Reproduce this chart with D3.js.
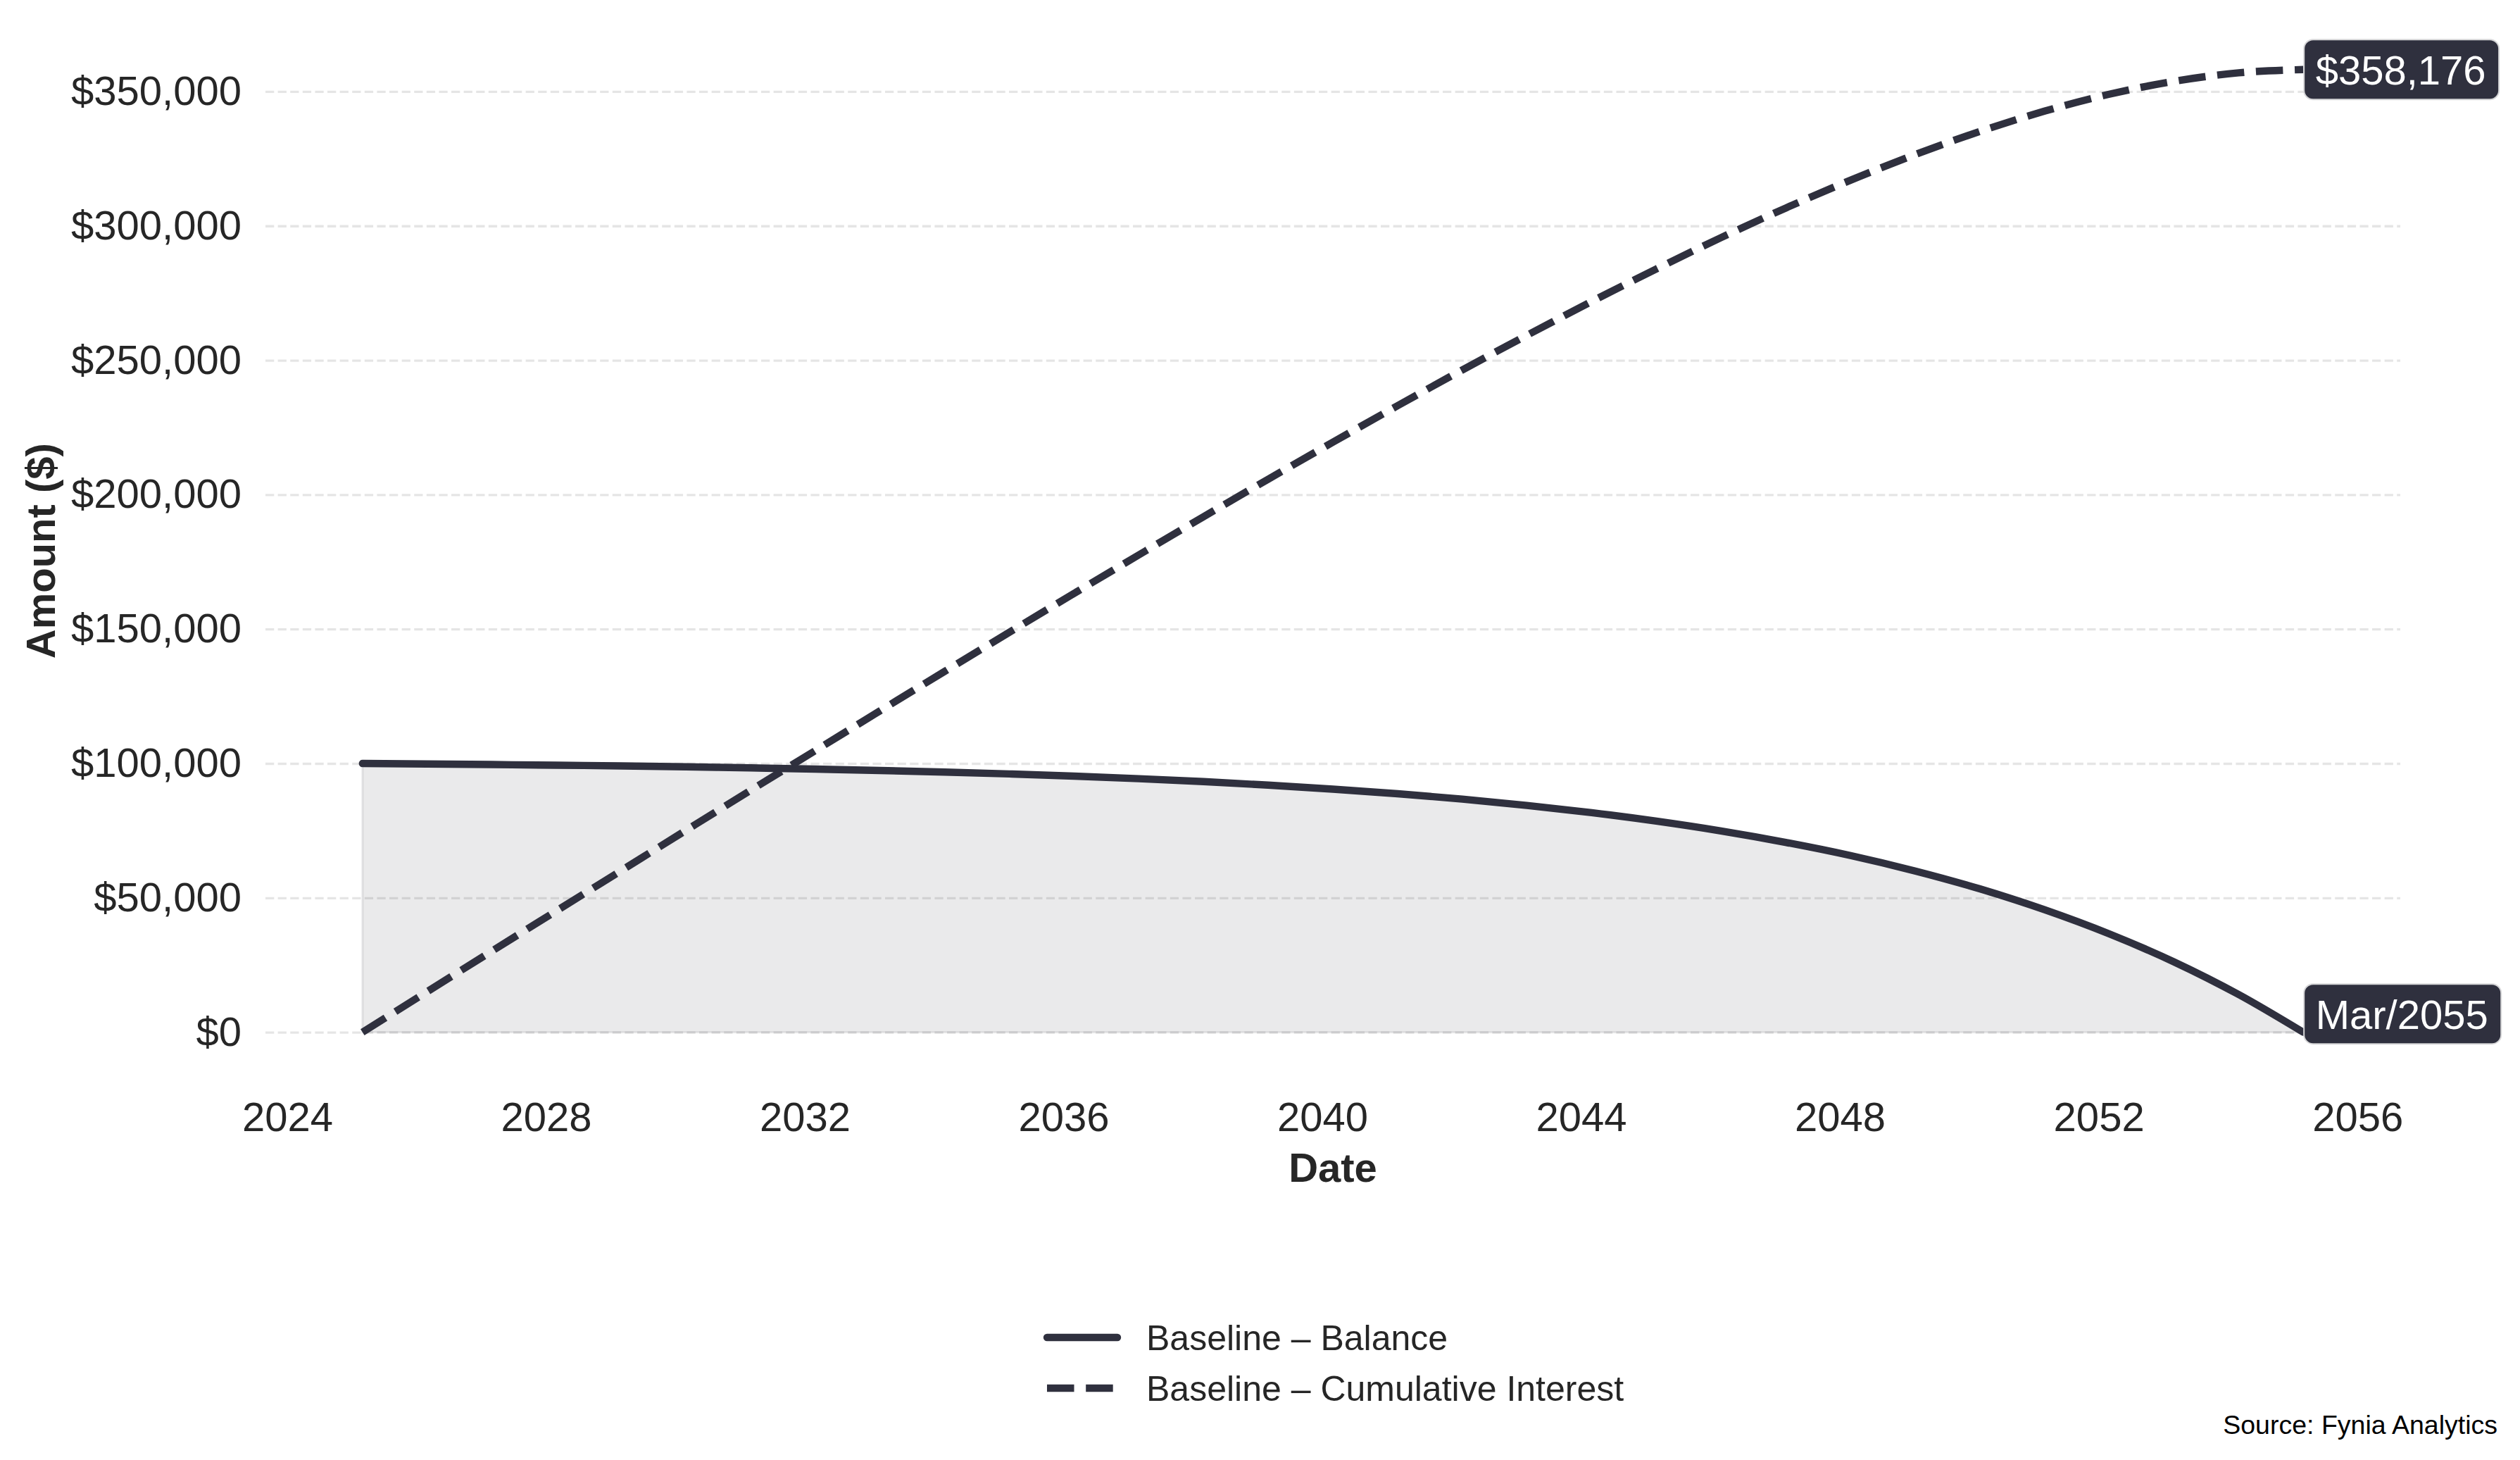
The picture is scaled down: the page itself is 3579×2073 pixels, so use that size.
<!DOCTYPE html>
<html>
<head>
<meta charset="utf-8">
<script src="https://cdn.jsdelivr.net/npm/d3@7"></script>
<style>
  body { margin: 0; background: #fff; }
  svg { display: block; font-family: "Liberation Sans", Arial, sans-serif; }
</style>
</head>
<body>
<svg id="chart" width="3579" height="2073"></svg>
<script>
// values, one point per year (March)
var years = [2025, 2026, 2027, 2028, 2029, 2030, 2031, 2032, 2033, 2034, 2035,
             2036, 2037, 2038, 2039, 2040, 2041, 2042, 2043, 2044, 2045,
             2046, 2047, 2048, 2049, 2050, 2051, 2052, 2053, 2054, 2055];
var balance = [100000, 99800, 99600, 99350, 99100, 98750, 98350, 97900, 97400, 96800, 96100,
               95300, 94350, 93250, 91950, 90450, 88750, 86750, 84400, 81700, 78550,
               74900, 70650, 65750, 60000, 53350, 45600, 36600, 26200, 14050, 0];
var interest = [0, 15100, 30150, 45200, 60150, 75100, 90000, 104800, 119600, 134250, 148800,
                163300, 177600, 191800, 205750, 219550, 233100, 246400, 259300, 271900, 284000,
                295650, 306650, 317000, 326550, 335150, 342700, 349000, 353800, 356950, 358176];
var yTicks = [0, 50000, 100000, 150000, 200000, 250000, 300000, 350000];
var seriesNames = ['Baseline \u2013 Balance', 'Baseline \u2013 Cumulative Interest'];
var endLabels = ['$358,176', 'Mar/2055'];
var sourceText = 'Source: Fynia Analytics';

var ink = '#2f303e';
var textColor = '#262626';

var svg = d3.select('#chart');
var margin = {l: 377, r: 3409, t: 30.4, b: 1534};
var plotW = margin.r - margin.l;

var rows = years.map(function(y, i) {
    return {date: new Date(y, 2, 1), balance: balance[i], interest: interest[i]};
});

// 5% padding round the data, like the original
var t0 = rows[0].date, t1 = rows[rows.length - 1].date;
var padT = (t1 - t0) * 0.05;
var x = d3.scaleTime()
    .domain([new Date(+t0 - padT), new Date(+t1 + padT)])
    .range([margin.l, margin.r]);

var yMax = d3.max(interest), padY = yMax * 0.05;
var y = d3.scaleLinear()
    .domain([-padY, yMax + padY])
    .range([margin.b, margin.t]);

// grid
svg.append('g')
    .attr('transform', 'translate(' + margin.l + ',0)')
    .call(d3.axisLeft(y).tickValues(yTicks).tickSize(-plotW).tickFormat(''))
    .call(function(g) {
        g.select('.domain').remove();
        g.selectAll('line')
            .attr('stroke', 'rgba(0,0,0,0.1)')
            .attr('stroke-width', 3.3)
            .attr('stroke-dasharray', '12.3 5.3');
    });

// area under balance
var area = d3.area()
    .x(function(d) { return x(d.date); })
    .y0(y(0))
    .y1(function(d) { return y(d.balance); })
    .curve(d3.curveMonotoneX);

svg.append('path')
    .datum(rows)
    .attr('d', area)
    .attr('fill', 'rgba(47,48,62,0.1)')
    .attr('stroke', 'rgba(47,48,62,0.1)')
    .attr('stroke-width', 3);

var balLine = d3.line()
    .x(function(d) { return x(d.date); })
    .y(function(d) { return y(d.balance); })
    .curve(d3.curveMonotoneX);

var intLine = d3.line()
    .x(function(d) { return x(d.date); })
    .y(function(d) { return y(d.interest); })
    .curve(d3.curveMonotoneX);

svg.append('path')
    .datum(rows)
    .attr('d', balLine)
    .attr('fill', 'none')
    .attr('stroke', ink)
    .attr('stroke-width', 10.4)
    .attr('stroke-linecap', 'round');

svg.append('path')
    .datum(rows)
    .attr('d', intLine)
    .attr('fill', 'none')
    .attr('stroke', ink)
    .attr('stroke-width', 10.4)
    .attr('stroke-dasharray', '38.5 16.7');

// axes
svg.append('g')
    .attr('transform', 'translate(' + margin.l + ',0)')
    .call(d3.axisLeft(y).tickValues(yTicks).tickSize(0).tickPadding(34)
        .tickFormat(function(d) { return '$' + d3.format(',')(d); }))
    .call(function(g) {
        g.select('.domain').remove();
        g.selectAll('text')
            .style('font-size', '58px')
            .style('font-family', '"Liberation Sans", Arial, sans-serif')
            .attr('fill', textColor);
    });

svg.append('g')
    .attr('transform', 'translate(0,' + margin.b + ')')
    .call(d3.axisBottom(x).ticks(d3.timeYear.every(4)).tickSize(0).tickPadding(31)
        .tickFormat(d3.timeFormat('%Y')))
    .call(function(g) {
        g.select('.domain').remove();
        g.selectAll('text')
            .style('font-size', '58px')
            .style('font-family', '"Liberation Sans", Arial, sans-serif')
            .attr('fill', textColor);
    });

svg.append('text')
    .attr('x', (margin.l + margin.r) / 2)
    .attr('y', 1678)
    .attr('text-anchor', 'middle')
    .attr('font-size', 58)
    .attr('font-weight', 'bold')
    .attr('fill', textColor)
    .text('Date');

svg.append('text')
    .attr('transform', 'translate(78,' + ((margin.t + margin.b) / 2) + ') rotate(-90)')
    .attr('text-anchor', 'middle')
    .attr('font-size', 58)
    .attr('font-weight', 'bold')
    .attr('fill', textColor)
    .text('Amount ($)');

// end labels
var last = rows[rows.length - 1];
var labelPos = [
    {x: x(last.date), y: y(last.interest), text: endLabels[0]},
    {x: x(last.date), y: y(last.balance) - 26, text: endLabels[1]}
];

labelPos.forEach(function(p) {
    var g = svg.append('g');
    var box = g.append('rect');
    var t = g.append('text')
        .attr('x', p.x + 17.5)
        .attr('y', p.y)
        .attr('dy', '0.36em')
        .attr('font-size', 58)
        .attr('fill', '#fff')
        .text(p.text);
    var w = t.node().getComputedTextLength();
    box.attr('x', p.x + 1)
        .attr('y', p.y - 42.5)
        .attr('width', w + 35)
        .attr('height', 85)
        .attr('rx', 13)
        .attr('fill', ink)
        .attr('stroke', '#d6d6d8')
        .attr('stroke-width', 2);
});

// legend
var legend = svg.append('g');
[0, 1].forEach(function(i) {
    var ly = 1899 + i * 72;
    legend.append('line')
        .attr('x1', 1487).attr('x2', 1587)
        .attr('y1', ly).attr('y2', ly)
        .attr('stroke', ink)
        .attr('stroke-width', 10.4)
        .attr('stroke-linecap', i === 0 ? 'round' : 'butt')
        .attr('stroke-dasharray', i === 0 ? null : '38.5 16.7');
    legend.append('text')
        .attr('x', 1628)
        .attr('y', ly)
        .attr('dy', '0.35em')
        .attr('font-size', 50)
        .attr('fill', textColor)
        .text(seriesNames[i]);
});

svg.append('text')
    .attr('x', 3547)
    .attr('y', 2036)
    .attr('text-anchor', 'end')
    .attr('font-size', 37.5)
    .attr('fill', '#000')
    .text(sourceText);
</script>
</body>
</html>
